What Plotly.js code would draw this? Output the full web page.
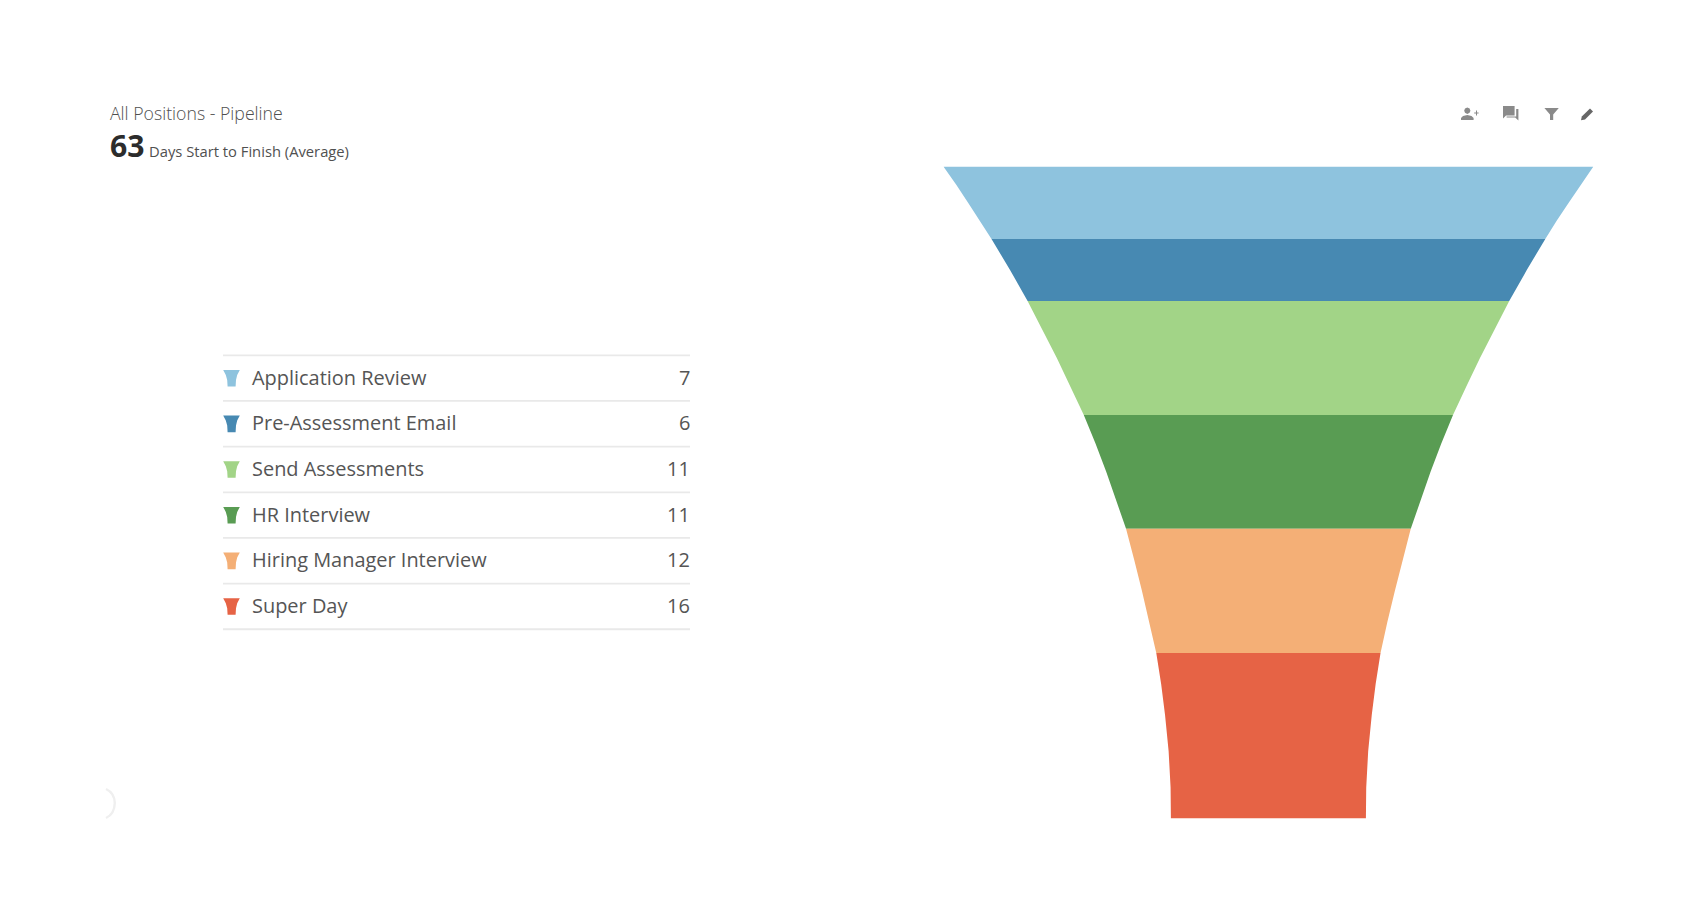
<!DOCTYPE html>
<html>
<head>
<meta charset="utf-8">
<script src="https://cdn.plot.ly/plotly-3.0.1.min.js"></script>
<style>html,body{margin:0;padding:0;background:#fff;overflow:hidden}#chart{width:1688px;height:904px}</style>
</head>
<body>
<div id="chart"></div>
<script>
// ---- data ----
var stages = ["Application Review", "Pre-Assessment Email", "Send Assessments", "HR Interview", "Hiring Manager Interview", "Super Day"];
var days = [7, 6, 11, 11, 12, 16];
var colors = ["#8EC3DE", "#4789B2", "#A2D487", "#599C53", "#F4AF76", "#E66345"];
var chartTitle = "All Positions - Pipeline";
var totalDays = "63";
var totalCaption = "Days Start to Finish (Average)";
// funnel outline: cumulative day vs width (% of top width)
var edgeDay   = [0, 1.75, 3.5, 5.25, 7, 10, 13, 15.75, 18.5, 21.25, 24, 26.75, 29.5, 32.25, 35, 38, 41, 44, 47, 50, 53, 56.5, 60, 63];
var edgeWidth = [100, 96.1, 92.4, 88.7, 85.2, 79.5, 74.1, 69.6, 65.1, 60.9, 56.8, 53.2, 49.9, 46.8, 43.8, 41.3, 38.9, 36.6, 34.5, 33, 31.8, 30.7, 30.1, 30];

// ---- layout helpers (pixels to paper) ----
var W = 1688, H = 904;
function X(p){ return p / W; }
function Y(p){ return 1 - p / H; }
function P(pts, close){
  return pts.map(function(q,i){ return (i? "L":"M") + X(q[0]) + "," + Y(q[1]); }).join(" ") + (close? " Z":"");
}

// ---- funnel bands ----
var traces = [], start = 0;
stages.forEach(function(name, i){
  var end = start + days[i];
  var ys = [], ws = [];
  edgeDay.forEach(function(d, k){ if (d >= start && d <= end){ ys.push(d); ws.push(edgeWidth[k]); } });
  var xs = ws.concat(ws.slice().reverse().map(function(v){ return -v; }));
  var yy = ys.concat(ys.slice().reverse());
  xs.push(xs[0]); yy.push(yy[0]);
  traces.push({type:"scatter", mode:"lines", x:xs, y:yy, fill:"toself", fillcolor:colors[i],
    line:{width:0, color:colors[i]}, name:name, hoverinfo:"name", showlegend:false});
  start = end;
});

// ---- table, title, icons ----
var annotations = [], shapes = [];
function txt(s, x, y, size, color, anchor, weight){
  annotations.push({text:s, x:X(x), y:Y(y), xref:"paper", yref:"paper", showarrow:false, xanchor:anchor||"left", yanchor:"middle",
    borderpad:0, borderwidth:0, font:{family:"Open Sans", size:size, color:color, weight:weight||400}});
}
txt(chartTitle, 110, 112.8, 17.7, "#4f4f4f", "left", 300);
txt(totalDays, 110, 146, 30.2, "#2c2c2c", "left", 700);
txt(totalCaption, 148.7, 151, 14.75, "#505050", "left", 400);

var rowTop = 355.3, rowH = 45.66, tableL = 223, tableR = 690;
for (var r = 0; r <= stages.length; r++){
  var ly = rowTop + r * rowH;
  shapes.push({type:"line", xref:"paper", yref:"paper", x0:X(tableL), x1:X(tableR), y0:Y(ly), y1:Y(ly), line:{color:"#e9e9e9", width:1.8}});
}
stages.forEach(function(name, i){
  var cy = rowTop + (i + .5) * rowH;
  txt(name, 252, cy - 1.1, 19.95, "#555555", "left");
  txt(String(days[i]), tableR, cy - 1.1, 19.95, "#555555", "right");
  var t = cy - 8.2, b = cy + 8.4;
  shapes.push({type:"path", xref:"paper", yref:"paper", fillcolor:colors[i], line:{width:0},
    path:P([[223.2,t],[239.8,t],[237.2,t+5],[236,t+10],[235.6,b],[227.6,b],[227.2,t+10],[225.8,t+5]], true)});
});

function icon(pts, col){ shapes.push({type:"path", xref:"paper", yref:"paper", fillcolor:col, line:{width:0}, path:P(pts, true)}); }
var ic = "#8a8a8a";
// add-person icon
icon([[1464.2,110.7],[1465,108.6],[1467.3,107.5],[1469.6,108.6],[1470.4,110.7],[1469.6,112.8],[1467.3,113.9],[1465,112.8]], ic);
icon([[1461,120],[1461,118],[1463,116],[1467.3,115],[1471.5,116],[1473.6,118],[1473.6,120]], ic);
icon([[1474.2,112.4],[1476,112.4],[1476,110.4],[1477,110.4],[1477,112.4],[1478.6,112.4],[1478.6,113.4],[1477,113.4],[1477,115.4],[1476,115.4],[1476,113.4],[1474.2,113.4]], ic);
// chat icon
icon([[1503,106],[1514.6,106],[1514.6,115.6],[1506,115.6],[1503,118.4]], ic);
icon([[1516.2,109],[1518.4,109],[1518.4,120.4],[1515.2,117.4],[1506.6,117.4],[1506.6,116.6],[1516.2,116.6]], ic);
// filter icon
icon([[1544.4,108],[1558.8,108],[1553.2,114.6],[1553.2,120],[1550,120],[1550,114.6]], ic);
// pencil icon
icon([[1590,108.6],[1593,111.6],[1585,119.6],[1581,120.2],[1581.8,116.4]], "#666666");

// faint loading arc, bottom left
shapes.push({type:"path", xref:"paper", yref:"paper", line:{color:"#efefef", width:2.4},
  path:"M"+X(106)+","+Y(789)+" Q"+X(114.5)+","+Y(793)+" "+X(114.8)+","+Y(803)+" Q"+X(114.5)+","+Y(814)+" "+X(106)+","+Y(818)});

var layout = {
  width:W, height:H, margin:{l:0,r:0,t:0,b:0,pad:0},
  paper_bgcolor:"#ffffff", plot_bgcolor:"#ffffff", showlegend:false, hovermode:"closest",
  xaxis:{domain:[X(943.4), X(1593.4)], range:[-100,100], visible:false, fixedrange:true},
  yaxis:{domain:[Y(818.6), Y(166.5)], range:[63,0], visible:false, fixedrange:true},
  annotations:annotations, shapes:shapes
};
Plotly.newPlot("chart", traces, layout, {displayModeBar:false, responsive:false});
</script>
</body>
</html>
